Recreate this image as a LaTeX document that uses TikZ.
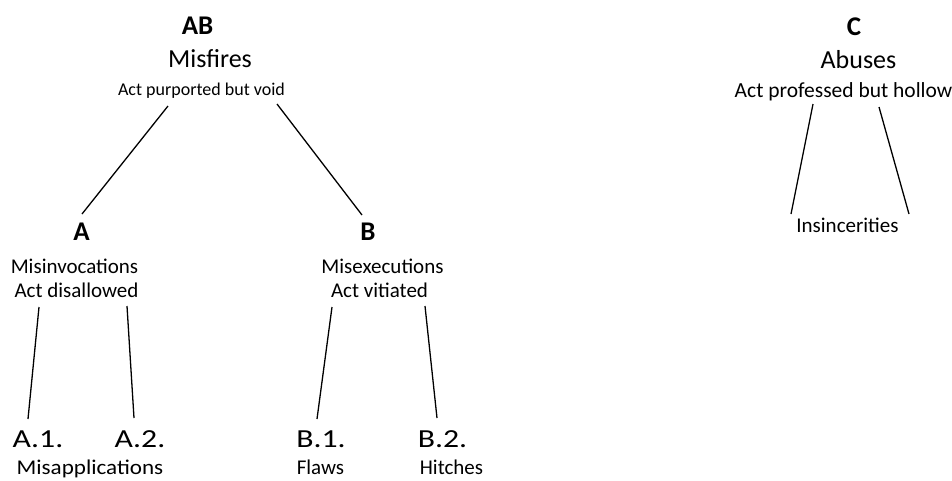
\documentclass[tikz,border=0pt]{standalone}
\usepackage{fontspec}
\setmainfont{Carlito}
\usetikzlibrary{positioning}

\begin{document}
\begin{tikzpicture}[x=1pt,y=-1pt,
    lbl/.style={inner sep=0pt,anchor=base},
    letter/.style={lbl,font=\fontsize{27}{32}\selectfont\bfseries},
    term/.style={lbl,font=\fontsize{26}{31}\selectfont},
    gloss/.style={lbl,font=\fontsize{21}{25}\selectfont},
    wide/.style={xscale=#1},
    branch/.style={line width=1.3pt}]
  \useasboundingbox (0,0) rectangle (952,480);
  \node[letter] (AB) at (197.5,34) {AB};
  \node[term] (misfires) at (210,67) {Misfires};
  \node[gloss,font=\fontsize{18}{22}\selectfont] (void) at (201.5,95) {Act purported but void};
  \node[letter] (A) at (81.5,240) {A};
  \node[gloss] (misinv) at (74.5,273) {Misinvocations};
  \node[gloss] (disallowed) at (76.5,297) {Act disallowed};
  \node[letter] (B) at (368,240) {B};
  \node[gloss] (misexec) at (382.5,273) {Misexecutions};
  \node[gloss] (vitiated) at (379.5,297) {Act vitiated};
  \node[term,wide=1.22] (A1) at (38,447) {A.1.};
  \node[term,wide=1.22] (A2) at (140,447) {A.2.};
  \node[term,wide=1.22] (B1) at (321,447) {B.1.};
  \node[term,wide=1.22] (B2) at (442.5,447) {B.2.};
  \node[gloss,wide=1.1] (misappl) at (90,474) {Misapplications};
  \node[gloss] (flaws) at (320.5,474) {Flaws};
  \node[gloss] (hitches) at (451.5,474) {Hitches};
  \node[letter] (C) at (854,35) {C};
  \node[term] (abuses) at (858.5,68) {Abuses};
  \node[gloss,font=\fontsize{21.5}{26}\selectfont] (hollow) at (843.5,97) {Act professed but hollow};
  \node[gloss] (insinc) at (847.5,232) {Insincerities};
  % branch ends
  \coordinate (AB-l) at (168,106);  \coordinate (A-t) at (82,214);
  \coordinate (AB-r) at (277,104);  \coordinate (B-t) at (362,215);
  \coordinate (A-l) at (39,307);    \coordinate (A1-t) at (28,419);
  \coordinate (A-r) at (127,306);   \coordinate (A2-t) at (134,418);
  \coordinate (B-l) at (332,307);   \coordinate (B1-t) at (317,419);
  \coordinate (B-r) at (425,306);   \coordinate (B2-t) at (437,418);
  \coordinate (C-l) at (813,104);   \coordinate (insinc-l) at (791,214);
  \coordinate (C-r) at (879,107);   \coordinate (insinc-r) at (909,214);
  \foreach \u/\v in {AB-l/A-t,AB-r/B-t,A-l/A1-t,A-r/A2-t,B-l/B1-t,B-r/B2-t,C-l/insinc-l,C-r/insinc-r}
    \draw[branch] (\u) -- (\v);
\end{tikzpicture}
\end{document}
